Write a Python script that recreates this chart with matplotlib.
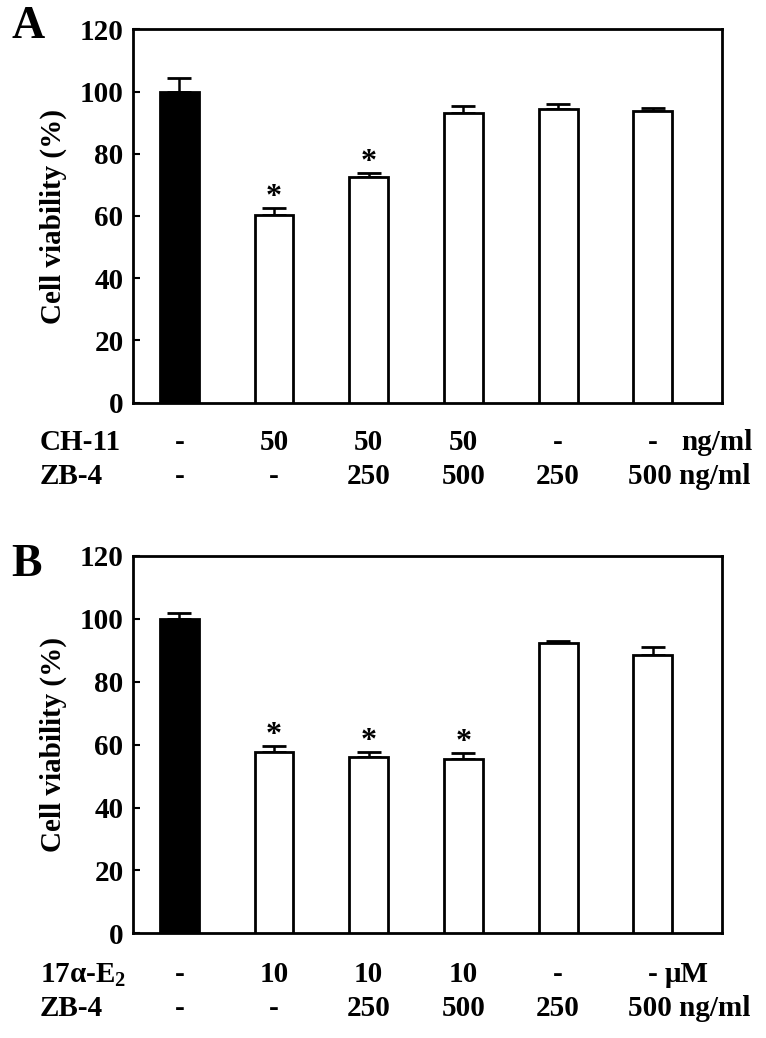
import matplotlib
matplotlib.use("Agg")
import matplotlib.pyplot as plt
from matplotlib.transforms import blended_transform_factory

plt.rcParams['font.family'] = ['Liberation Serif', 'DejaVu Serif']
plt.rcParams['font.weight'] = 'bold'
plt.rcParams['mathtext.fontset'] = 'custom'
plt.rcParams['mathtext.rm'] = 'Liberation Serif:bold'
plt.rcParams['mathtext.bf'] = 'Liberation Serif:bold'

# ---- data ----
a_values = [100, 60.3, 72.5, 93.0, 94.4, 93.7]
a_errors = [4.3, 2.3, 1.3, 2.2, 1.5, 0.9]
a_sig = [False, True, True, False, False, False]
a_row1 = ['-', '50', '50', '50', '-', '-']
a_row2 = ['-', '-', '250', '500', '250', '']
a_row1_label = 'CH-11'
a_row2_label = 'ZB-4'

b_values = [100, 57.6, 56.0, 55.5, 92.4, 88.4]
b_errors = [2.0, 2.0, 1.8, 1.9, 0.6, 2.8]
b_sig = [False, True, True, True, False, False]
b_row1 = ['-', '10', '10', '10', '-', '-']
b_row2 = ['-', '-', '250', '500', '250', '']
b_row1_label = '17α-E$_{2}$'
b_row2_label = 'ZB-4'

yticks = [0, 20, 40, 60, 80, 100, 120]
ylabel = 'Cell viability (%)'

W, H = 766, 1038
fig = plt.figure(figsize=(W / 100, H / 100), dpi=100)
FS = 21

def fy(py):
    return 1 - py / H

def panel(rect, values, errors, sig, row1, row2, lab1, lab2, unit1, letter,
          letter_y, row1_y, row2_y):
    ax = fig.add_axes(rect)
    x = list(range(len(values)))
    colors = ['black'] + ['white'] * (len(values) - 1)
    ax.bar(x, values, width=0.41, color=colors, edgecolor='black', linewidth=2.0, zorder=3)
    ax.errorbar(x, values, yerr=[[0] * len(values), errors], fmt='none', ecolor='black',
                elinewidth=1.8, capsize=8.5, capthick=2.0, zorder=2)
    for xi, v, e, s in zip(x, values, errors, sig):
        if s:
            ax.annotate('*', (xi, v + e), xytext=(0, -3), textcoords='offset points',
                        ha='center', va='bottom', fontsize=23, fontweight='bold')
    ax.set_xlim(-0.486, 5.73)
    ax.set_ylim(0, 120)
    ax.set_yticks(yticks)
    ax.set_yticklabels([str(t) for t in yticks], fontsize=FS, fontweight='bold')
    ax.tick_params(axis='y', direction='in', length=5, width=1.5, pad=7)
    ax.set_xticks([])
    for sp in ax.spines.values():
        sp.set_linewidth(2.0)
    ax.set_ylabel(ylabel, fontsize=21, fontweight='bold')
    ax.yaxis.set_label_coords(-0.112, 0.5)

    tr = blended_transform_factory(ax.transData, fig.transFigure)
    for xi, t in enumerate(row1):
        ax.text(xi, fy(row1_y), t, transform=tr, ha='center', va='center',
                fontsize=FS, fontweight='bold')
    for xi, t in enumerate(row2):
        if t:
            ax.text(xi, fy(row2_y), t, transform=tr, ha='center', va='center',
                    fontsize=FS, fontweight='bold')
    ax.text(5.30 if unit1 == 'ng/ml' else 5.13, fy(row1_y), unit1, transform=tr,
            ha='left', va='center', fontsize=FS, fontweight='bold')
    ax.text(4.74, fy(row2_y), '500 ng/ml', transform=tr, ha='left', va='center',
            fontsize=FS, fontweight='bold')
    fig.text(40 / W, fy(row1_y), lab1, ha='left', va='center', fontsize=FS, fontweight='bold')
    fig.text(40 / W, fy(row2_y), lab2, ha='left', va='center', fontsize=FS, fontweight='bold')
    fig.text(11 / W, fy(letter_y), letter, ha='left', va='center', fontsize=33,
             fontweight='bold')
    return ax

# Panel A
panel([133.3 / W, fy(402.7), (722 - 133.3) / W, (402.7 - 29.3) / H],
      a_values, a_errors, a_sig, a_row1, a_row2, a_row1_label, a_row2_label,
      'ng/ml', 'A', 27, 443, 476)
# Panel B
panel([133.3 / W, fy(933.3), (722 - 133.3) / W, (933.3 - 556) / H],
      b_values, b_errors, b_sig, b_row1, b_row2, b_row1_label, b_row2_label,
      'μM', 'B', 565, 975, 1008)

fig.savefig('out.png', dpi=100)
